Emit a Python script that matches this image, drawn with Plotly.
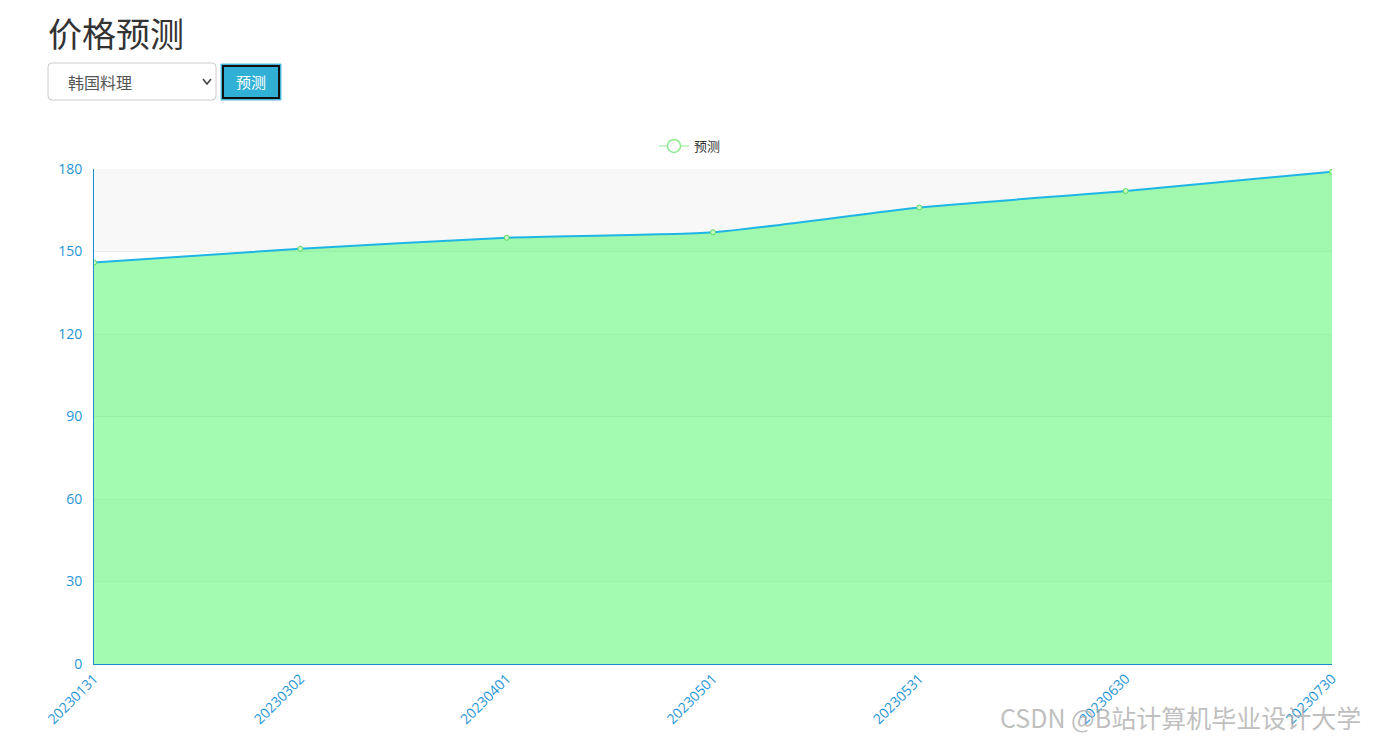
import plotly.graph_objects as go

# ---- data ----
dates = ["20230131", "20230302", "20230401", "20230501", "20230531", "20230630", "20230730"]
prices = [146, 151, 155, 157, 166, 172, 179]
y_ticks = [0, 30, 60, 90, 120, 150, 180]
series_name = "预测"
page_title = "价格预测"
select_text = "韩国料理"
button_text = "预测"
watermark = "CSDN @B站计算机毕业设计大学"

OFF = 8  # page body margin
W, H = 1360, 728
L, T = 94 - OFF, 169 - OFF
R = W - (1332 - OFF)
B = H - (664 - OFF)
PW, PH = W - L - R, H - T - B


def px(x):
    return (x - OFF - L) / PW


def py(y):
    return (H - B - (y - OFF)) / PH


FONT = "Noto Sans CJK SC, Microsoft YaHei, sans-serif"
NUMFONT = "Open Sans, Noto Sans CJK SC, sans-serif"

fig = go.Figure()

fig.add_trace(go.Scatter(
    x=dates, y=prices, mode="lines+markers", name=series_name,
    line=dict(color="#1fb5e5", width=2, shape="spline", smoothing=0.6),
    marker=dict(symbol="circle", size=5, color="#c8f7c8",
                line=dict(color="#5ade5a", width=1)),
    fill="tozeroy", fillcolor="rgba(71,245,99,0.5)",
    showlegend=False, hoverinfo="x+y",
))
# legend-only entry
fig.add_trace(go.Scatter(
    x=[None], y=[None], mode="lines+markers", name=series_name,
    line=dict(color="#8eea8e", width=1),
    marker=dict(symbol="circle", size=13, color="white",
                line=dict(color="#8eea8e", width=1.5)),
    showlegend=True,
))

shapes = []
for i in range(len(y_ticks) - 1):
    if i % 2 == 1:
        shapes.append(dict(type="rect", xref="paper", yref="y", x0=0, x1=1,
                           y0=y_ticks[i], y1=y_ticks[i + 1], layer="below",
                           fillcolor="#f8f8f8", line=dict(width=0)))

# page header decorations (select box + button)
r = 4
x0s, x1s, y0s, y1s = 48, 216, 63, 100
sel_path = (f"M {px(x0s + r)} {py(y0s)} L {px(x1s - r)} {py(y0s)} "
            f"Q {px(x1s)} {py(y0s)} {px(x1s)} {py(y0s + r)} L {px(x1s)} {py(y1s - r)} "
            f"Q {px(x1s)} {py(y1s)} {px(x1s - r)} {py(y1s)} L {px(x0s + r)} {py(y1s)} "
            f"Q {px(x0s)} {py(y1s)} {px(x0s)} {py(y1s - r)} L {px(x0s)} {py(y0s + r)} "
            f"Q {px(x0s)} {py(y0s)} {px(x0s + r)} {py(y0s)} Z")
shapes.append(dict(type="path", xref="paper", yref="paper", path=sel_path,
                   fillcolor="white", line=dict(color="#cccccc", width=1)))
shapes.append(dict(type="path", xref="paper", yref="paper",
                   path=f"M {px(203)} {py(79)} L {px(207)} {py(84)} L {px(211)} {py(79)}",
                   line=dict(color="#444444", width=1.6)))
shapes.append(dict(type="rect", xref="paper", yref="paper",
                   x0=px(221), x1=px(281), y0=py(100), y1=py(64),
                   fillcolor="#31b0d5", line=dict(color="#5bc0de", width=1)))
shapes.append(dict(type="rect", xref="paper", yref="paper",
                   x0=px(223), x1=px(279), y0=py(98), y1=py(66),
                   fillcolor="#31b0d5", line=dict(color="#111111", width=2)))

annotations = [
    dict(text=page_title, xref="paper", yref="paper", x=px(46), y=py(32),
         xanchor="left", yanchor="middle", showarrow=False,
         font=dict(size=34, color="#333333", family=FONT)),
    dict(text=select_text, xref="paper", yref="paper", x=px(66), y=py(82),
         xanchor="left", yanchor="middle", showarrow=False,
         font=dict(size=16, color="#555555", family=FONT)),
    dict(text=button_text, xref="paper", yref="paper", x=px(251), y=py(82),
         xanchor="center", yanchor="middle", showarrow=False,
         font=dict(size=15, color="white", family=FONT)),
    dict(text=watermark, xref="paper", yref="paper", x=px(1363), y=py(717),
         xanchor="right", yanchor="middle", showarrow=False,
         font=dict(size=25, color="rgba(170,170,170,0.75)", family=FONT)),
]

fig.update_layout(
    width=W, height=H,
    margin=dict(l=L, r=R, t=T, b=B, autoexpand=False),
    paper_bgcolor="white", plot_bgcolor="white",
    font=dict(family=FONT, size=12, color="#333333"),
    shapes=shapes, annotations=annotations,
    legend=dict(orientation="h", x=px(690), y=py(146), xanchor="center",
                yanchor="middle", font=dict(size=13, color="#333333"),
                bgcolor="rgba(0,0,0,0)", itemwidth=30),
    xaxis=dict(type="category", range=[0, len(dates) - 1], tickangle=-45,
               showgrid=False, showline=True, linecolor="#1a88cc", linewidth=1,
               ticks="", tickfont=dict(size=14, color="#1f95d6", family=NUMFONT),
               zeroline=False),
    yaxis=dict(range=[y_ticks[0], y_ticks[-1]], tickvals=y_ticks,
               showgrid=True, gridcolor="#ececec", gridwidth=1,
               showline=True, linecolor="#1a90cf", linewidth=1, ticks="",
               ticklabelstandoff=8,
               tickfont=dict(size=14, color="#1f95d6", family=NUMFONT),
               zeroline=False),
)

fig.write_html("out.html")
